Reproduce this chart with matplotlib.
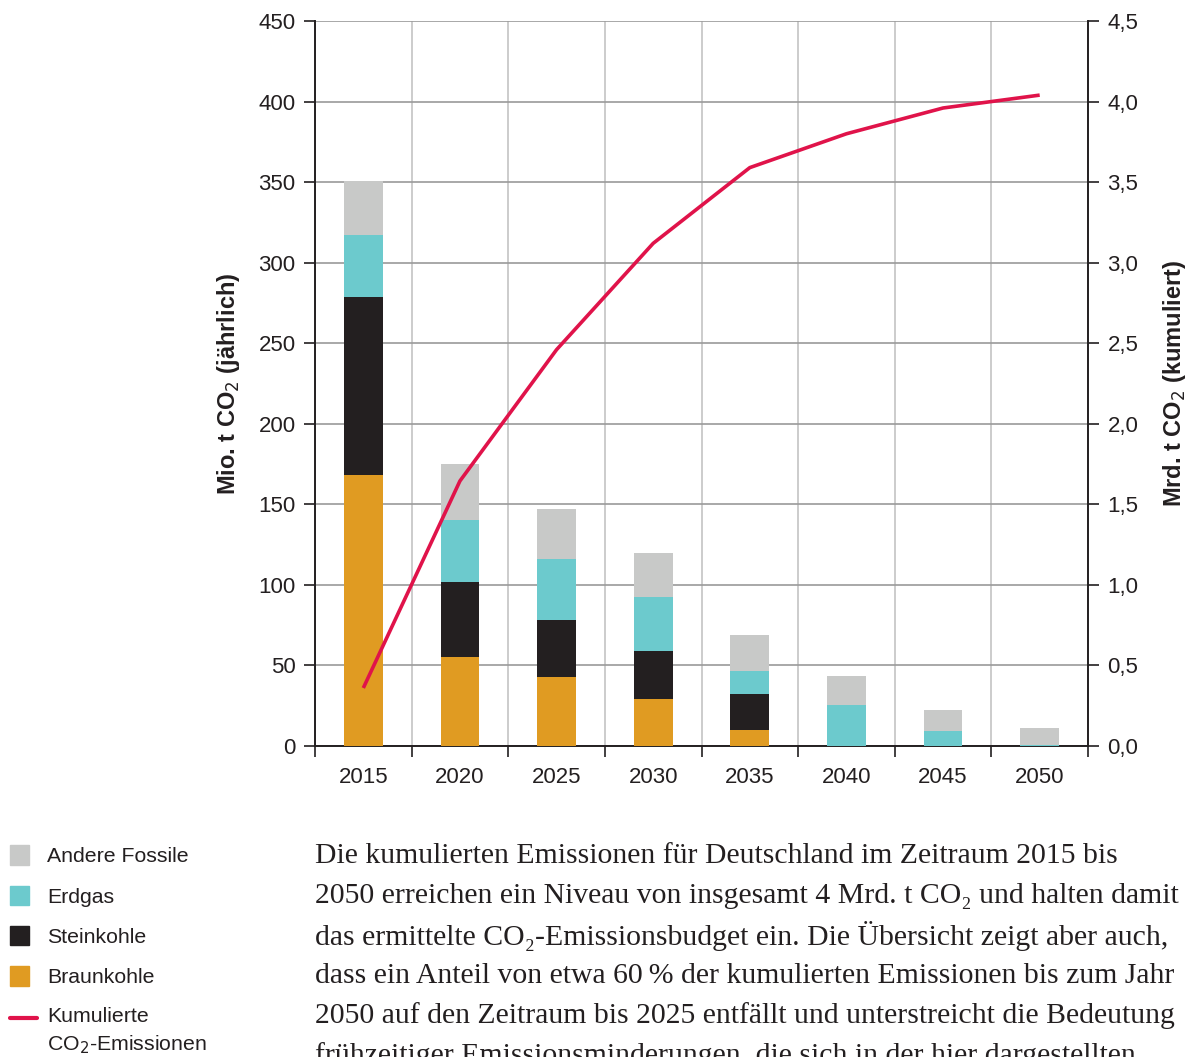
import matplotlib
matplotlib.use("Agg")
import matplotlib.pyplot as plt
from matplotlib.patches import Patch, Rectangle
from matplotlib.lines import Line2D
from matplotlib.legend_handler import HandlerPatch
import numpy as np

years = ["2015", "2020", "2025", "2030", "2035", "2040", "2045", "2050"]
braunkohle = [168, 55, 43, 29, 10, 0, 0, 0]
steinkohle = [111, 47, 35, 30, 22, 0, 0, 0]
erdgas = [38, 38, 38, 33.5, 14.5, 25.5, 9.3, 0.5]
andere = [34, 35, 31, 27.5, 22.5, 18, 13, 10.5]
kumuliert = [0.36, 1.645, 2.46, 3.12, 3.59, 3.80, 3.96, 4.04]

left_ticks = [0, 50, 100, 150, 200, 250, 300, 350, 400, 450]
right_ticks = [0.0, 0.5, 1.0, 1.5, 2.0, 2.5, 3.0, 3.5, 4.0, 4.5]

c_braun = "#E09B22"
c_stein = "#231F20"
c_erdgas = "#6CCACD"
c_andere = "#C8C9C8"
c_line = "#E0134A"
c_text = "#231F20"

plt.rcParams["font.family"] = ["Liberation Sans", "DejaVu Sans"]

fig = plt.figure(figsize=(11.89, 10.57), dpi=100)
ax = fig.add_axes([315 / 1189, 1 - 746 / 1057, (1088 - 315) / 1189, (746 - 21) / 1057])

x = np.arange(len(years))
w = 0.40
b1 = np.array(braunkohle, float)
b2 = b1 + np.array(steinkohle, float)
b3 = b2 + np.array(erdgas, float)
ax.bar(x, braunkohle, w, color=c_braun, zorder=3)
ax.bar(x, steinkohle, w, bottom=b1, color=c_stein, zorder=3)
ax.bar(x, erdgas, w, bottom=b2, color=c_erdgas, zorder=3)
ax.bar(x, andere, w, bottom=b3, color=c_andere, zorder=3)

ax.set_xlim(-0.5, len(years) - 0.5)
ax.set_ylim(0, 450)
ax.set_yticks(left_ticks)
ax.set_yticklabels([str(t) for t in left_ticks])
ax.set_xticks(x)
ax.set_xticklabels(years)
ax.set_xticks(np.arange(-0.5, len(years), 1.0), minor=True)
ax.tick_params(axis="x", which="major", length=0, pad=15, labelsize=16, colors=c_text)
ax.tick_params(axis="x", which="minor", length=8, width=1.2, direction="out", color=c_text)
ax.tick_params(axis="y", length=8, width=1.2, direction="out", labelsize=16, colors=c_text, pad=6)
ax.grid(axis="y", color="#9a9a9a", linewidth=1.2, zorder=0)
ax.grid(axis="x", which="minor", color="#c4c4c4", linewidth=1.2, zorder=0)
ax.grid(axis="x", which="major", visible=False)
for s in ax.spines.values():
    s.set_color(c_text)
    s.set_linewidth(1.4)
ax.spines["top"].set_visible(False)
ax.set_ylabel("Mio. t CO$_2$ (jährlich)", fontsize=17, fontweight="bold", color=c_text, labelpad=12)

ax2 = ax.twinx()
ax2.set_ylim(0, 4.5)
ax2.set_yticks(right_ticks)
ax2.set_yticklabels([f"{t:.1f}".replace(".", ",") for t in right_ticks])
ax2.tick_params(axis="y", length=8, width=1.2, direction="out", labelsize=16, colors=c_text, pad=6)
for s in ax2.spines.values():
    s.set_visible(False)
ax2.plot(x, kumuliert, color=c_line, linewidth=2.6, zorder=5, solid_capstyle="butt")
ax2.set_ylabel("Mrd. t CO$_2$ (kumuliert)", fontsize=17, fontweight="bold", color=c_text, labelpad=16)


def square_patch(legend, orig_handle, xdescent, ydescent, width, height, fontsize):
    side = 14.0
    return Rectangle((-xdescent, -ydescent + (height - side) / 2), side, side)


class TopLineHandler:
    """Legend line drawn level with the first row of a two-row label."""

    def legend_artist(self, legend, orig_handle, fontsize, handlebox):
        x0, y0 = handlebox.xdescent, handlebox.ydescent
        wd, ht = handlebox.width, handlebox.height
        yy = -y0 + ht / 2 + 10.0
        line = Line2D([-x0, -x0 + wd], [yy, yy], color=orig_handle.get_color(),
                      linewidth=orig_handle.get_linewidth(), solid_capstyle="round")
        handlebox.add_artist(line)
        return line


handles = [
    Patch(color=c_andere, label="Andere Fossile"),
    Patch(color=c_erdgas, label="Erdgas"),
    Patch(color=c_stein, label="Steinkohle"),
    Patch(color=c_braun, label="Braunkohle"),
    Line2D([0], [0], color=c_line, linewidth=3, label="Kumulierte\nCO$_2$-Emissionen"),
]
leg = fig.legend(handles=handles, loc="upper left", bbox_to_anchor=(0.0, 1 - 836 / 1057),
                 frameon=False, fontsize=15.3, handlelength=1.3, handleheight=1.0,
                 handletextpad=0.47, labelspacing=0.92, borderaxespad=0, borderpad=0.45,
                 handler_map={Patch: HandlerPatch(patch_func=square_patch),
                              Line2D: TopLineHandler()})
for t in leg.get_texts():
    t.set_color(c_text)
leg.get_texts()[-1].set_linespacing(1.45)

paragraph = [
    "Die kumulierten Emissionen für Deutschland im Zeitraum 2015 bis",
    "2050 erreichen ein Niveau von insgesamt 4 Mrd. t CO\u2082 und halten damit",
    "das ermittelte CO\u2082-Emissionsbudget ein. Die Übersicht zeigt aber auch,",
    "dass ein Anteil von etwa 60\u2009% der kumulierten Emissionen bis zum Jahr",
    "2050 auf den Zeitraum bis 2025 entfällt und unterstreicht die Bedeutung",
    "frühzeitiger Emissionsminderungen, die sich in der hier dargestellten",
]
for i, line in enumerate(paragraph):
    fig.text(315 / 1189, 1 - (856 + 40 * i) / 1057, line, fontsize=21.4,
             family=["Liberation Serif", "DejaVu Serif"], color=c_text, va="center", ha="left")

fig.savefig("out.png", dpi=100)
